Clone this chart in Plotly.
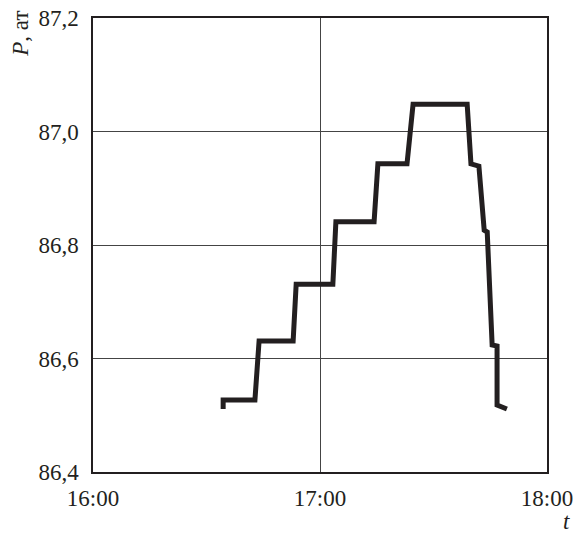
import plotly.graph_objects as go

# time stamps (HH:MM:SS) and pressure values
times = ["16:34:24", "16:34:24", "16:42:48", "16:43:54", "16:52:54", "16:53:42",
         "17:03:24", "17:04:12", "17:14:18", "17:15:18", "17:23:00", "17:24:36",
         "17:38:54", "17:39:54", "17:42:00", "17:43:24", "17:44:12", "17:45:30",
         "17:46:48", "17:46:48", "17:49:24"]
pressure = [86.511, 86.527, 86.527, 86.631, 86.631, 86.731,
            86.731, 86.841, 86.841, 86.943, 86.943, 87.048,
            87.048, 86.943, 86.939, 86.826, 86.823, 86.624,
            86.622, 86.518, 86.511]

x_ticks = ["16:00", "17:00", "18:00"]
y_ticks = [86.4, 86.6, 86.8, 87.0, 87.2]

day = "2000-01-01 "
xs = [day + t for t in times]
xt = [day + t + ":00" for t in x_ticks]

fig = go.Figure()
fig.add_trace(go.Scatter(x=xs, y=pressure, mode="lines",
                         line=dict(color="#231f20", width=5),
                         hoverinfo="skip"))

font = dict(family="Liberation Serif", size=23, color="#231f20")

fig.update_layout(
    width=577, height=533,
    margin=dict(l=93, r=30, t=18, b=61),
    paper_bgcolor="white", plot_bgcolor="white",
    separators=", ",
    showlegend=False,
    font=font,
    xaxis=dict(range=[xt[0], xt[-1]], tickvals=xt, ticktext=x_ticks,
               showgrid=True, gridcolor="#444", gridwidth=1,
               showline=True, linecolor="#231f20", linewidth=1.5, mirror=True,
               ticks="", zeroline=False, tickfont=font, automargin=False,
               ticklabelstandoff=5),
    yaxis=dict(range=[86.4, 87.2], tickvals=y_ticks, tickformat=".1f",
               showgrid=True, gridcolor="#444", gridwidth=1,
               showline=True, linecolor="#231f20", linewidth=1.5, mirror=True,
               ticks="", zeroline=False, tickfont=font, automargin=False,
               ticklabelstandoff=8),
    annotations=[
        dict(text="<i>P</i>, ат", xref="paper", yref="paper", x=-0.16, y=0.966,
             xanchor="center", yanchor="middle", textangle=-90, showarrow=False,
             font=font),
        dict(text="<i>t</i>", xref="paper", yref="paper", x=1.042, y=-0.108,
             xanchor="center", yanchor="middle", showarrow=False, font=font),
    ],
)

fig.write_html("out.html", config={"displayModeBar": False},
               post_script="document.body.style.margin='0';")
